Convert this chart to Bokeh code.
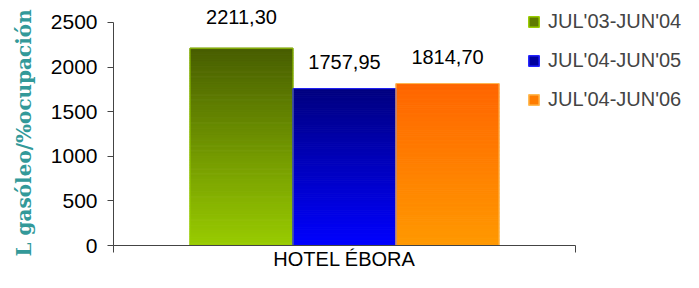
from bokeh.plotting import figure
from bokeh.models import (ColumnDataSource, Legend, LegendItem, FixedTicker, Range1d,
                          LinearAxis, Title)
from bokeh.embed import file_html
from bokeh.resources import INLINE
from bokeh.core.properties import value

# ---- data ----
category = ["HOTEL ÉBORA"]
periods = ["JUL'03-JUN'04", "JUL'04-JUN'05", "JUL'04-JUN'06"]
values = [2211.30, 1757.95, 1814.70]
value_labels = ["2211,30", "1757,95", "1814,70"]
y_ticks = [0, 500, 1000, 1500, 2000, 2500]
y_title = "L gasóleo/%ocupación"

# ---- styles / layout ----
top_colors = [(72, 94, 0), (0, 0, 128), (255, 102, 0)]
bottom_colors = [(153, 204, 0), (0, 0, 255), (255, 153, 0)]
border_colors = ["#99cc00", "#2222ff", "#ffbb55"]
legend_fill = ["#5f7a00", "#00009e", "#ff7c00"]
label_offsets = [-31, -27, -27]
bar_width = 0.223
group_center = 0.5
n_slices = 120
FONT = "Liberation Sans"

W, H = 683, 272
FRAME_LEFT, AXIS_RIGHT, AXIS_TOP, AXIS_BOTTOM = 113, 575, 22, 246
Y_MAX = 2500
# extend the frame so that labels/legend outside the axis box are not clipped
y_end = Y_MAX * AXIS_BOTTOM / (AXIS_BOTTOM - AXIS_TOP)
x_end = (W - FRAME_LEFT) / (AXIS_RIGHT - FRAME_LEFT)

p = figure(width=W, height=H, output_backend="svg", toolbar_location=None,
           x_range=Range1d(0, x_end), y_range=Range1d(0, y_end),
           min_border_left=FRAME_LEFT, min_border_right=0, min_border_top=0,
           min_border_bottom=H - AXIS_BOTTOM, background_fill_color="white",
           border_fill_color="white")
p.outline_line_color = None
p.xgrid.visible = False
p.ygrid.visible = False

n = len(values)
centers = [group_center + (i - (n - 1) / 2) * bar_width for i in range(n)]


def mix(c1, c2, t):
    r = round(c1[0] + (c2[0] - c1[0]) * t)
    g = round(c1[1] + (c2[1] - c1[1]) * t)
    b = round(c1[2] + (c2[2] - c1[2]) * t)
    return "#%02x%02x%02x" % (r, g, b)


# gradient bars made of thin slices
L, R, B, T, C = [], [], [], [], []
for i, v in enumerate(values):
    for k in range(n_slices):
        L.append(centers[i] - bar_width / 2)
        R.append(centers[i] + bar_width / 2)
        B.append(v * k / n_slices)
        T.append(v * (k + 1) / n_slices)
        C.append(mix(bottom_colors[i], top_colors[i], (k + 0.5) / n_slices))
p.quad(left=L, right=R, bottom=B, top=T, fill_color=C, line_color=C, line_width=1)

# bar outlines
outline = ColumnDataSource(dict(
    left=[c - bar_width / 2 for c in centers],
    right=[c + bar_width / 2 for c in centers],
    top=values, bottom=[0] * n, lc=border_colors))
p.quad(left="left", right="right", top="top", bottom="bottom", source=outline,
       fill_color=None, line_color="lc", line_width=1)

# value labels
lab = ColumnDataSource(dict(x=centers, y=values, text=value_labels, yo=label_offsets))
p.text(x="x", y="y", text="text", y_offset="yo", source=lab,
       text_align="center", text_baseline="middle",
       text_font=value(FONT), text_font_size="20px", text_color="black")

# legend swatches (not drawn in plot)
nan = float("nan")
leg_src = ColumnDataSource(dict(l=[nan] * n, r=[nan] * n, b=[nan] * n, t=[nan] * n,
                                fc=legend_fill, lc=border_colors))
lr = p.quad(left="l", right="r", bottom="b", top="t", source=leg_src,
            fill_color="fc", line_color="lc", line_width=1.5)
legend = Legend(items=[LegendItem(label=periods[i], renderers=[lr], index=i) for i in range(n)],
                location=(414, 134), orientation="vertical",
                glyph_width=13, glyph_height=13, label_standoff=8,
                label_text_font=FONT, label_text_font_size="20px",
                label_height=20, spacing=16, padding=0, margin=0,
                border_line_color=None, background_fill_alpha=0)
p.add_layout(legend, "center")

# axes
ax_col = "#444444"
p.yaxis.bounds = (0, Y_MAX)
p.yaxis.ticker = FixedTicker(ticks=y_ticks)
p.yaxis.axis_line_color = ax_col
p.yaxis.major_tick_line_color = ax_col
p.yaxis.major_tick_out = 6
p.yaxis.major_tick_in = 0
p.yaxis.minor_tick_line_color = None
p.yaxis.major_label_standoff = 10
p.yaxis.major_label_text_font = FONT
p.yaxis.major_label_text_font_size = "21px"
p.yaxis.major_label_text_color = "black"

# y title (left side), anchored at the bottom of the axis box
p.add_layout(Title(text=y_title, align="left", vertical_align="top", offset=-11,
                   standoff=20, text_font="DejaVu Serif", text_font_style="bold",
                   text_font_size="20px", text_color="#339999"), "left")

# x axis: line + boundary ticks
p.xaxis.bounds = (0, 1)
p.xaxis.ticker = FixedTicker(ticks=[0, 1])
p.xaxis.major_label_overrides = {0: "", 1: ""}
p.xaxis.major_label_standoff = 0
p.xaxis.axis_line_color = ax_col
p.xaxis.major_tick_line_color = ax_col
p.xaxis.major_tick_out = 7
p.xaxis.major_tick_in = 0
p.xaxis.minor_tick_line_color = None

# category label axis
cat_axis = LinearAxis(bounds=(0, 1), ticker=FixedTicker(ticks=[group_center]),
                      major_label_overrides={group_center: category[0]},
                      axis_line_color=None, major_tick_line_color=None,
                      minor_tick_line_color=None, major_label_standoff=-11,
                      major_label_text_font=FONT, major_label_text_font_size="20px",
                      major_label_text_color="black")
p.add_layout(cat_axis, "below")

open("out.html", "w").write(file_html(p, INLINE))
